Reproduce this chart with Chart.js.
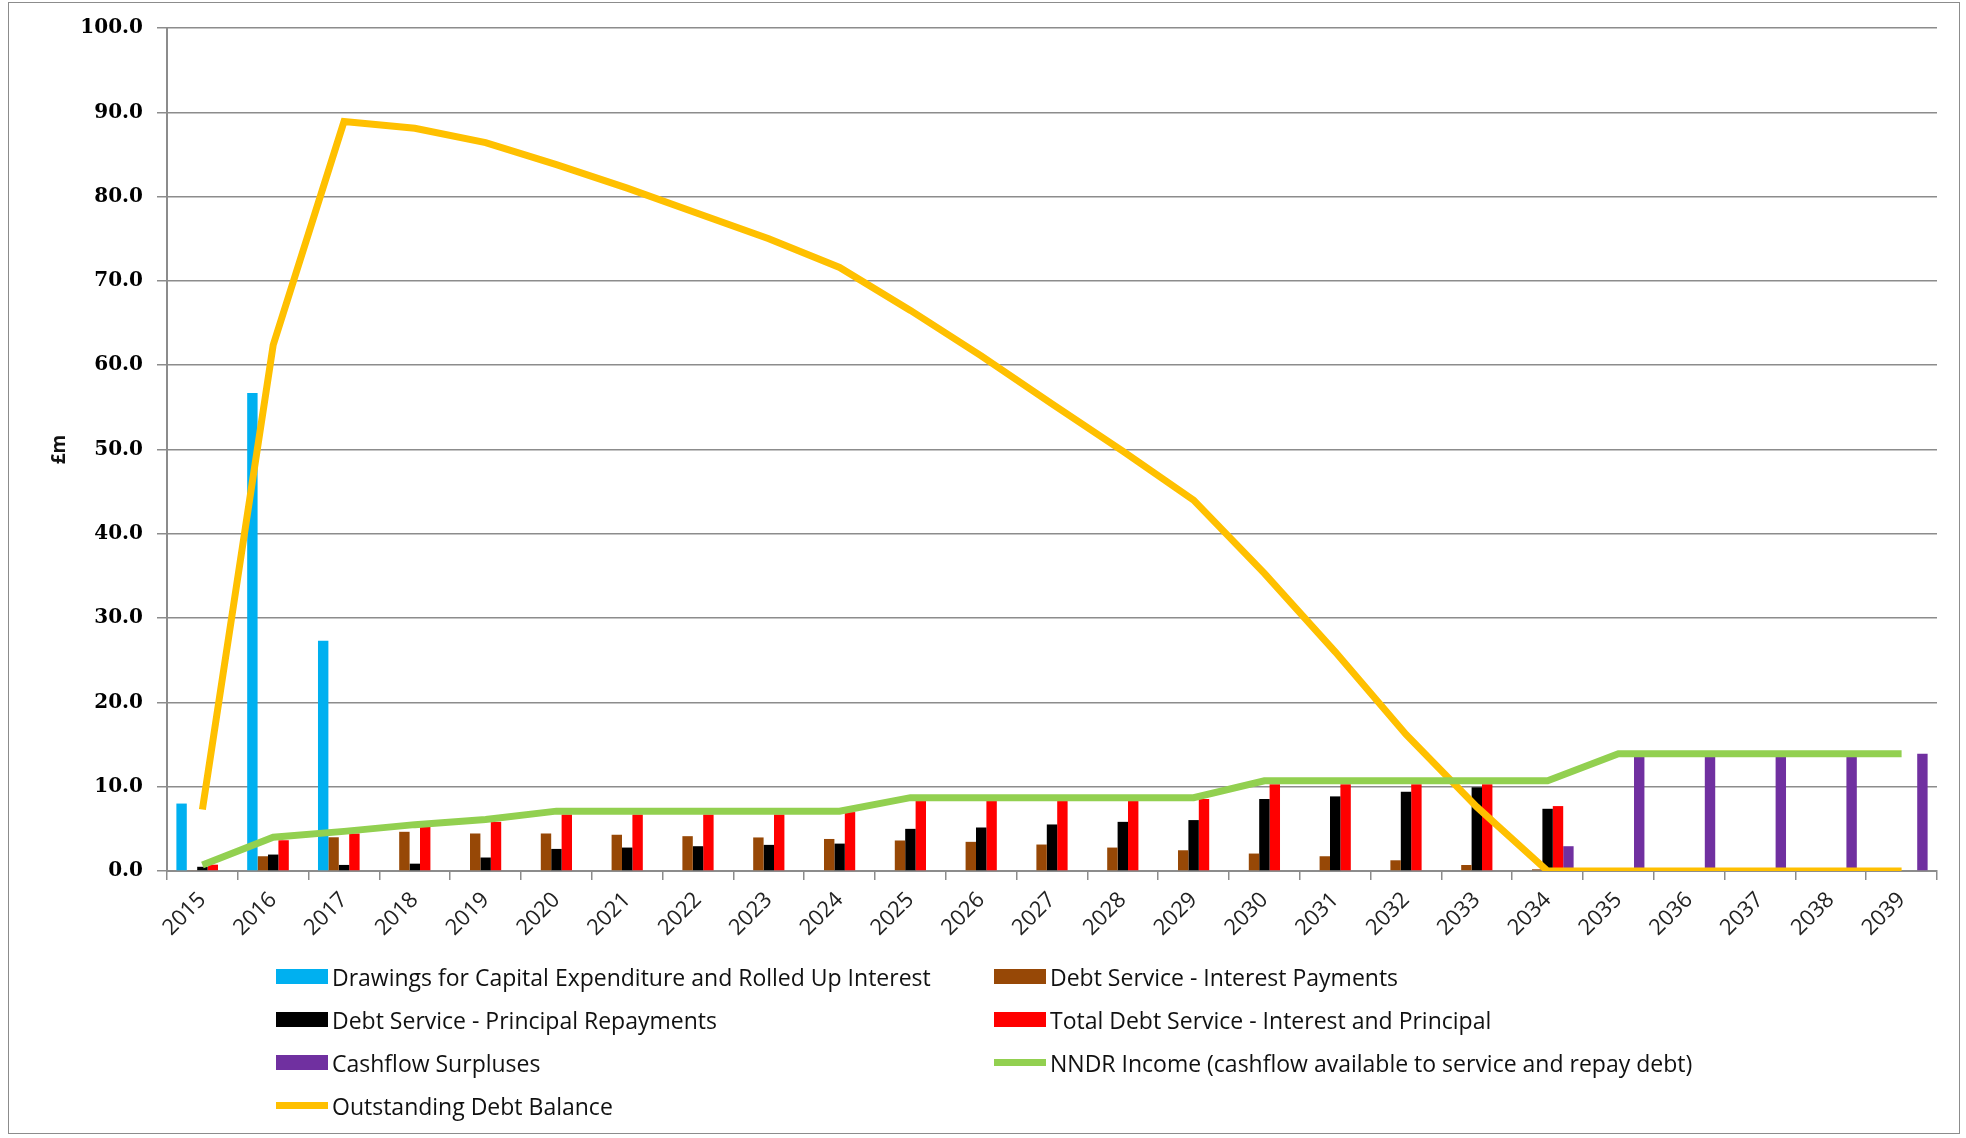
<!DOCTYPE html>
<html>
<head>
<meta charset="utf-8">
<script src="https://cdn.jsdelivr.net/npm/chart.js@4/dist/chart.umd.min.js"></script>
<style>
  html, body { margin: 0; padding: 0; background: #fff; }
  #wrap { position: relative; width: 1966px; height: 1138px; }
  #frame { position: absolute; left: 8px; top: 2px; width: 1952px; height: 1132px; border: 1px solid #8c8c8c; box-sizing: border-box; pointer-events: none; }
  #legend { position: absolute; left: 276px; top: 955px; display: grid; grid-template-columns: 718px 860px; row-gap: 0; font-family: "Open Sans", sans-serif; font-size: 23px; color: #111; }
  .item { display: flex; align-items: center; height: 43px; white-space: nowrap; }
  .sw { width: 52px; margin-right: 4px; }
</style>
</head>
<body>
<div id="wrap">
  <canvas id="chart" width="1966" height="1138"></canvas>
  <div id="frame"></div>
  <div id="legend"></div>
</div>
<script>
// Years on the x axis
const years = [
  "2015", "2016", "2017", "2018", "2019", "2020", "2021", "2022", "2023", "2024",
  "2025", "2026", "2027", "2028", "2029", "2030", "2031", "2032", "2033", "2034",
  "2035", "2036", "2037", "2038", "2039"
];

// £m values
const drawings = [8.0, 56.7, 27.3, 0, 0, 0, 0, 0, 0, 0, 0, 0, 0, 0, 0, 0, 0, 0, 0, 0, 0, 0, 0, 0, 0];
const interestPayments = [0.1, 1.75, 4.0, 4.65, 4.45, 4.45, 4.3, 4.13, 3.98, 3.8, 3.62, 3.46, 3.14, 2.78, 2.46, 2.07, 1.75, 1.27, 0.71, 0.2, 0, 0, 0, 0, 0];
const principalRepayments = [0.5, 1.95, 0.72, 0.87, 1.6, 2.62, 2.78, 2.94, 3.1, 3.25, 5.0, 5.16, 5.52, 5.83, 6.04, 8.54, 8.85, 9.4, 9.93, 7.38, 0, 0, 0, 0, 0];
const totalDebtService = [0.75, 3.65, 4.45, 5.32, 5.83, 6.71, 6.71, 6.71, 6.71, 6.99, 8.3, 8.3, 8.3, 8.3, 8.54, 10.28, 10.28, 10.28, 10.28, 7.7, 0, 0, 0, 0, 0];
const cashflowSurpluses = [0, 0, 0, 0, 0, 0, 0, 0, 0, 0, 0, 0, 0, 0, 0, 0, 0, 0, 0, 2.94, 13.9, 13.9, 13.9, 13.9, 13.9];
const nndrIncome = [0.7, 4.0, 4.7, 5.5, 6.1, 7.1, 7.1, 7.1, 7.1, 7.1, 8.7, 8.7, 8.7, 8.7, 8.7, 10.7, 10.7, 10.7, 10.7, 10.7, 13.9, 13.9, 13.9, 13.9, 13.9];
const debtBalance = [7.3, 62.4, 88.9, 88.1, 86.4, 83.8, 81.0, 78.0, 75.0, 71.6, 66.5, 61.1, 55.4, 49.8, 44.0, 35.3, 26.0, 16.2, 7.6, 0, 0, 0, 0, 0, 0];

const yTicks = [0, 10, 20, 30, 40, 50, 60, 70, 80, 90, 100];

function bar(label, data, color) {
  return { type: "bar", label: label, data: data, backgroundColor: color, order: 2,
    categoryPercentage: 0.735, barPercentage: 1.0 };
}
function line(label, data, color) {
  return { type: "line", label: label, data: data, borderColor: color, backgroundColor: color,
    borderWidth: 7, pointRadius: 0, tension: 0, order: 1, borderJoinStyle: "miter" };
}

const ctx = document.getElementById("chart").getContext("2d");
const chart = new Chart(ctx, {
  data: {
    labels: years,
    datasets: [
      bar("Drawings for Capital Expenditure and Rolled Up Interest", drawings, "#00B0F0"),
      bar("Debt Service - Interest Payments", interestPayments, "#974806"),
      bar("Debt Service - Principal Repayments", principalRepayments, "#000000"),
      bar("Total Debt Service - Interest and Principal", totalDebtService, "#FF0000"),
      bar("Cashflow Surpluses", cashflowSurpluses, "#7030A0"),
      line("NNDR Income (cashflow available to service and repay debt)", nndrIncome, "#92D050"),
      line("Outstanding Debt Balance", debtBalance, "#FFC000")
    ]
  },
  options: {
    responsive: false,
    animation: false,
    layout: { padding: { top: 28, right: 29, bottom: 0, left: 0 } },
    plugins: {
      legend: { display: false },
      tooltip: { enabled: false }
    },
    scales: {
      x: {
        offset: true,
        grid: { drawOnChartArea: false, drawTicks: true, tickLength: 9, offset: true, color: "#8c8c8c", lineWidth: 1.5 },
        border: { color: "#8c8c8c", width: 2 },
        ticks: { minRotation: 45, maxRotation: 45, color: "#222", padding: 7,
          font: { family: "'Open Sans', sans-serif", size: 22 } },
        afterFit: (scale) => { scale.height = 267; }
      },
      y: {
        min: 0,
        max: 100,
        afterBuildTicks: (scale) => { scale.ticks = yTicks.map(v => ({ value: v })); },
        grid: { color: "#8c8c8c", lineWidth: 1.5, tickLength: 10 },
        border: { color: "#8c8c8c", width: 2 },
        ticks: { color: "#000", padding: 14, callback: (v) => Number(v).toFixed(1),
          font: { family: "'DejaVu Serif', serif", size: 20, weight: "900" } },
        title: { display: true, text: "£m", color: "#111", padding: { top: 48, bottom: 0 },
          font: { family: "'Open Sans', sans-serif", size: 19, weight: "bold" } },
        afterFit: (scale) => { scale.width = 167; }
      }
    }
  }
});

// Two-column legend like the original
const legend = document.getElementById("legend");
chart.data.datasets.forEach((ds) => {
  const item = document.createElement("div");
  item.className = "item";
  const sw = document.createElement("span");
  sw.className = "sw";
  if (ds.type === "line") {
    sw.style.height = "7px";
  } else {
    sw.style.height = "15px";
  }
  sw.style.background = ds.type === "line" ? ds.borderColor : ds.backgroundColor;
  const txt = document.createElement("span");
  txt.textContent = ds.label;
  item.appendChild(sw);
  item.appendChild(txt);
  legend.appendChild(item);
});
</script>
</body>
</html>
